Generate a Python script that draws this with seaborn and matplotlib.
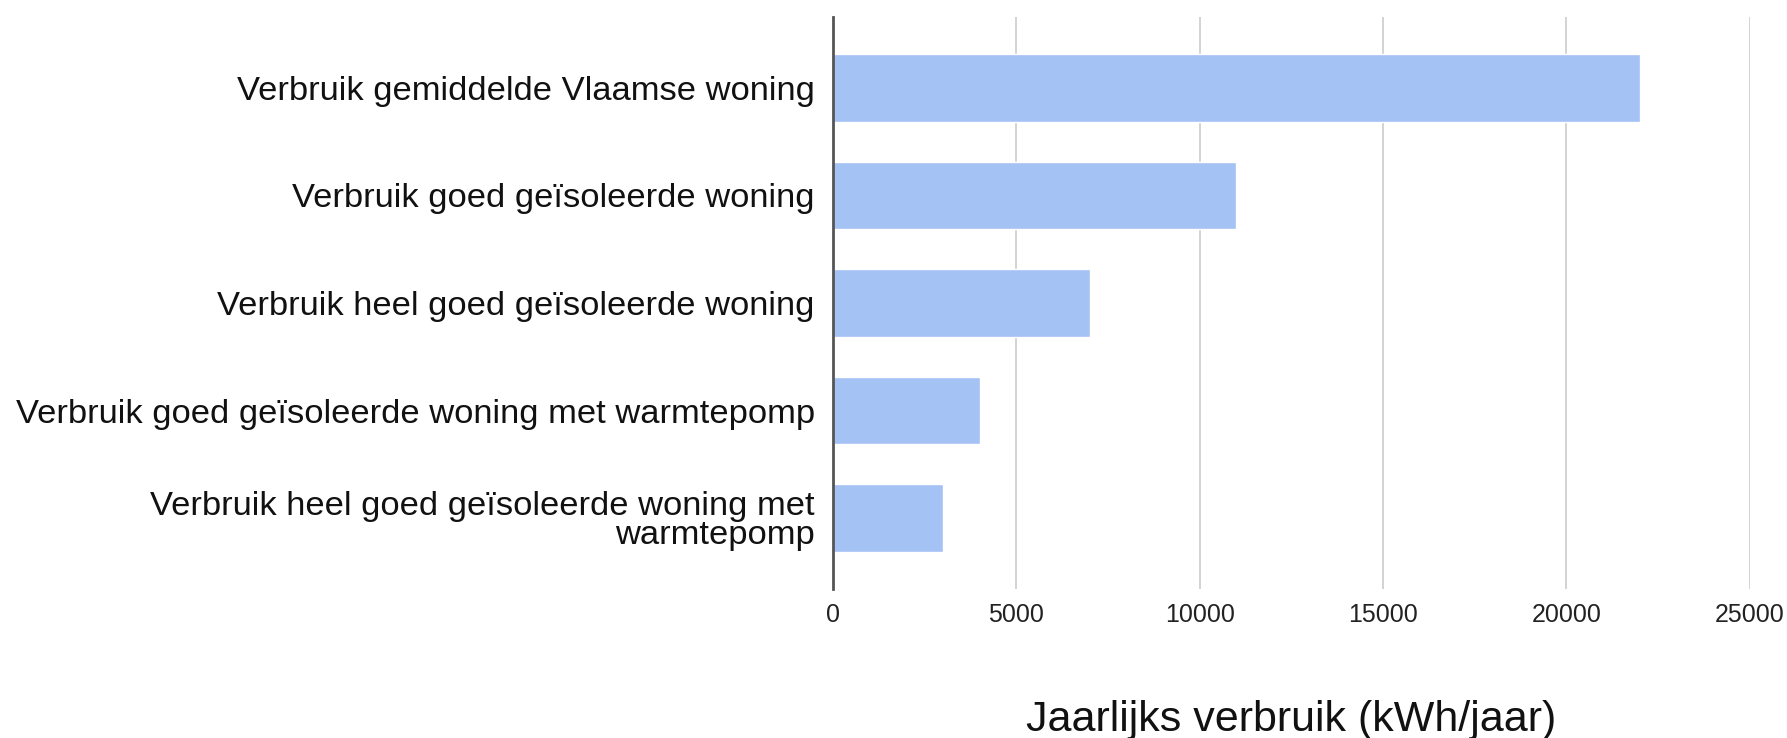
import matplotlib
matplotlib.use("Agg")
import matplotlib.pyplot as plt
import pandas as pd
import seaborn as sns

# Categorieën en jaarlijks verbruik (kWh/jaar)
categorieen = [
    "Verbruik gemiddelde Vlaamse woning",
    "Verbruik goed geïsoleerde woning",
    "Verbruik heel goed geïsoleerde woning",
    "Verbruik goed geïsoleerde woning met warmtepomp",
    "Verbruik heel goed geïsoleerde woning met\nwarmtepomp",
]
verbruik = [22000, 11000, 7000, 4000, 3000]
x_ticks = [0, 5000, 10000, 15000, 20000, 25000]

df = pd.DataFrame({"categorie": categorieen, "verbruik": verbruik})

sns.set_style("white")
plt.rcParams["font.family"] = ["Liberation Sans", "DejaVu Sans"]

fig = plt.figure(figsize=(17.87, 7.38), dpi=100)
ax = fig.add_axes([0.4661, 0.2019, 0.5131, 0.7751])

sns.barplot(data=df, x="verbruik", y="categorie", orient="h",
            color="#a4c2f4", saturation=1, width=0.63, ax=ax)

ax.set_xlim(0, 25000)
ax.set_ylim(4.66, -0.66)
ax.set_xticks(x_ticks)
ax.set_xticklabels([str(t) for t in x_ticks], fontsize=18, color="#222222")
for lbl in ax.get_yticklabels():
    lbl.set_linespacing(0.95)
ax.tick_params(axis="y", labelsize=24.8, pad=13, length=0, labelcolor="#111111")
ax.tick_params(axis="x", pad=10, length=0)

# verticale rasterlijnen
for t in x_ticks[1:]:
    ax.axvline(t, color="#d0d0d0", lw=1.3, zorder=0)

for s in ["top", "right", "bottom"]:
    ax.spines[s].set_visible(False)
ax.spines["left"].set_color("#555555")
ax.spines["left"].set_linewidth(2)

ax.set_ylabel("")
ax.set_xlabel("Jaarlijks verbruik (kWh/jaar)", fontsize=31, labelpad=53, color="#111111")

fig.savefig("out.png", dpi=100)
plt.close(fig)
